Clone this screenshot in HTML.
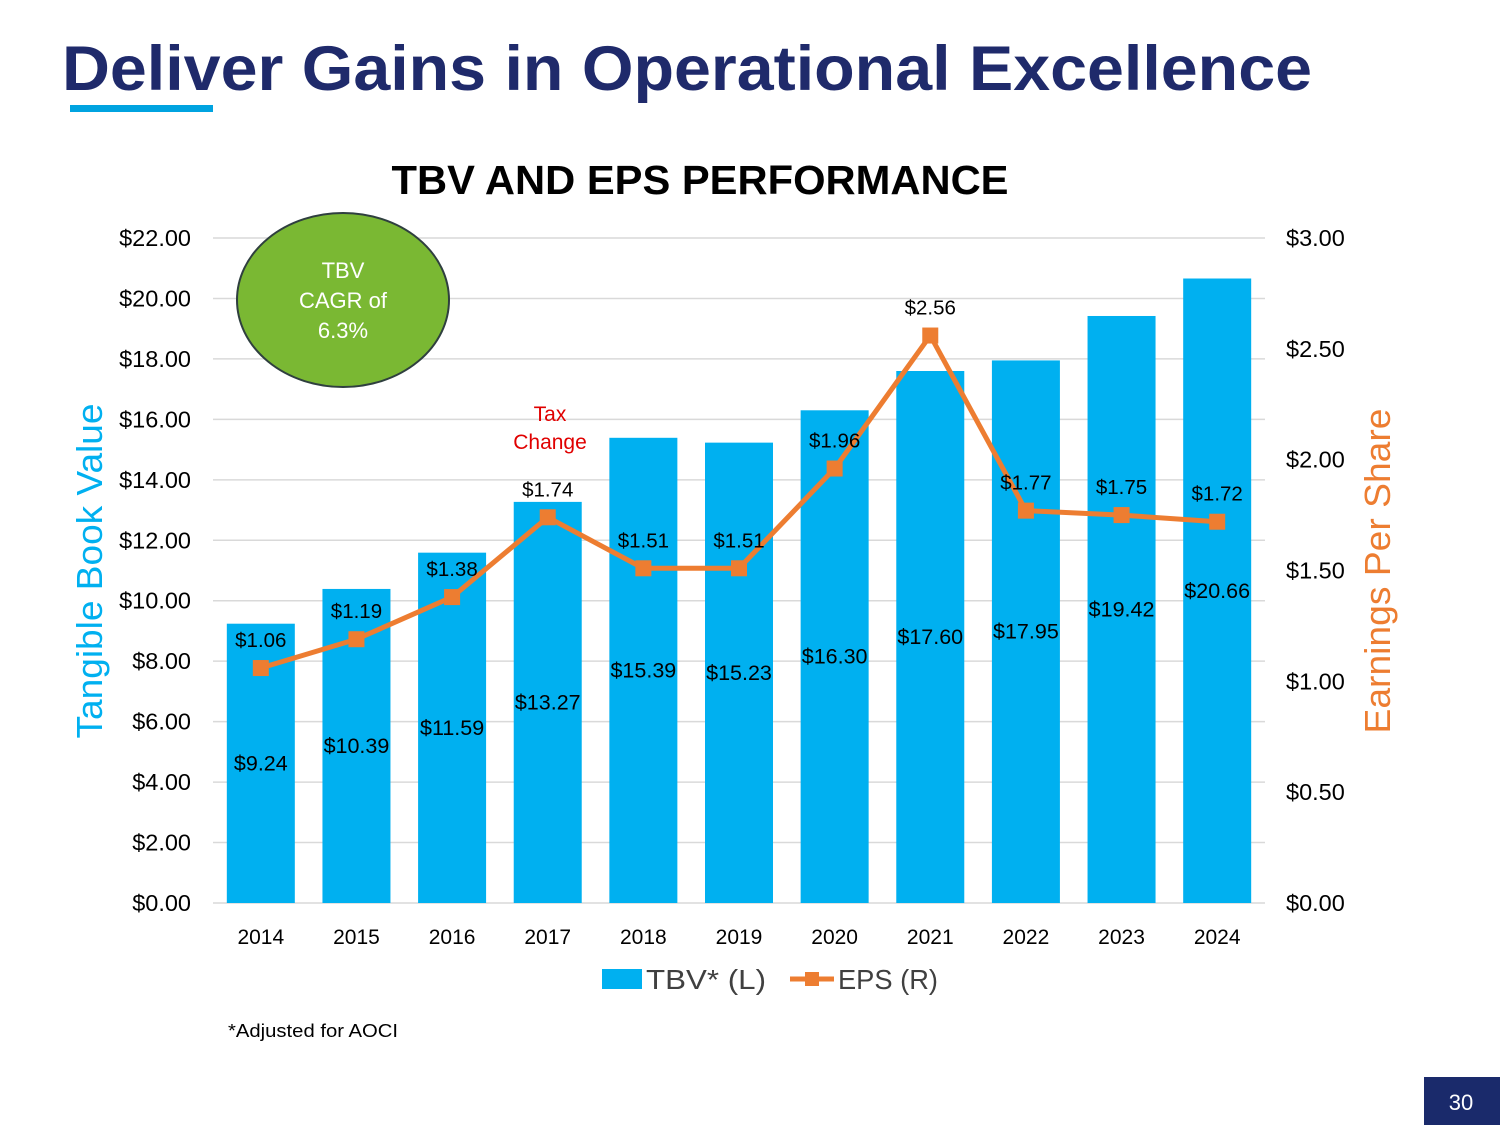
<!DOCTYPE html>
<html><head><meta charset="utf-8"><style>
body{margin:0;background:#fff;}
svg text{font-family:"Liberation Sans",Arial,sans-serif;}
</style></head><body>
<svg id="c" width="1500" height="1125" viewBox="0 0 1500 1125" xmlns="http://www.w3.org/2000/svg">
<text x="62" y="90" font-size="63" font-weight="bold" fill="#1f2a6b" textLength="1250" lengthAdjust="spacingAndGlyphs">Deliver Gains in Operational Excellence</text>
<rect x="70" y="105" width="143" height="7" fill="#00a3e0"/>
<text x="700" y="194" font-size="41" font-weight="bold" fill="#000" text-anchor="middle" textLength="617" lengthAdjust="spacingAndGlyphs">TBV AND EPS PERFORMANCE</text>
<g id="grid"></g>
<g id="bars"></g>
<g id="line"></g>
<g id="axes"></g>
<text transform="translate(102,571) rotate(-90)" font-size="36" fill="#00b0f0" text-anchor="middle" textLength="335" lengthAdjust="spacingAndGlyphs">Tangible Book Value</text>
<text transform="translate(1390,571) rotate(-90)" font-size="36" fill="#ed7d31" text-anchor="middle" textLength="325" lengthAdjust="spacingAndGlyphs">Earnings Per Share</text>
<g>
<ellipse cx="343" cy="300" rx="106" ry="87" fill="#7ab833" stroke="#2f3f3f" stroke-width="2"/>
<text x="343" y="278" font-size="22" fill="#fff" text-anchor="middle">TBV</text>
<text x="343" y="308" font-size="22" fill="#fff" text-anchor="middle">CAGR of</text>
<text x="343" y="338" font-size="22" fill="#fff" text-anchor="middle">6.3%</text>
</g>
<text x="550" y="421" font-size="21" fill="#e00000" text-anchor="middle">Tax</text>
<text x="550" y="449" font-size="21" fill="#e00000" text-anchor="middle">Change</text>
<g>
<rect x="602" y="969" width="40" height="20" fill="#00b0f0"/>
<text x="646" y="989" font-size="28" fill="#404040" font-family="DejaVu Sans" textLength="120" lengthAdjust="spacingAndGlyphs">TBV*  (L)</text>
<line x1="790" y1="979" x2="834" y2="979" stroke="#ed7d31" stroke-width="5"/>
<rect x="805" y="972" width="14" height="14" fill="#ed7d31"/>
<text x="838" y="989" font-size="28" fill="#404040" font-family="DejaVu Sans" textLength="100" lengthAdjust="spacingAndGlyphs">EPS  (R)</text>
</g>
<text x="228" y="1037" font-size="18" fill="#000" textLength="170" lengthAdjust="spacingAndGlyphs">*Adjusted for AOCI</text>
<rect x="1424" y="1077" width="76" height="48" fill="#1a2a6b"/>
<text x="1461" y="1110" font-size="22" fill="#fff" text-anchor="middle">30</text>
</svg>
<script>
const years=["2014","2015","2016","2017","2018","2019","2020","2021","2022","2023","2024"];
const tbv=[9.24,10.39,11.59,13.27,15.39,15.23,16.30,17.60,17.95,19.42,20.66];
const eps=[1.06,1.19,1.38,1.74,1.51,1.51,1.96,2.56,1.77,1.75,1.72];
const leftTicks=[0,2,4,6,8,10,12,14,16,18,20,22];
const rightTicks=[0,0.5,1,1.5,2,2.5,3];
const NS="http://www.w3.org/2000/svg";
const L=213,R=1265,T=238,B=903;
const yL=v=>B-(v/22)*(B-T);
const yR=v=>B-(v/3)*(B-T);
const band=(R-L)/years.length;
const xC=i=>L+band*(i+0.5);
function mk(tag,attrs,parent,txt){const e=document.createElementNS(NS,tag);for(const k in attrs)e.setAttribute(k,attrs[k]);if(txt!==undefined)e.textContent=txt;parent.appendChild(e);return e;}
const grid=document.getElementById('grid'),bars=document.getElementById('bars'),line=document.getElementById('line'),axes=document.getElementById('axes');
leftTicks.forEach(t=>{
  const g=mk('line',{x1:L,x2:R,y1:yL(t),y2:yL(t),stroke:'#d9d9d9','stroke-width':1.5},grid);
  
  
  const tx=mk('text',{x:191,y:yL(t)+8,'font-size':23.5,'text-anchor':'end',fill:'#000'},axes,'$'+t.toFixed(2));
  
  
});
rightTicks.forEach(t=>{
  const tx=mk('text',{x:1286,y:yR(t)+8,'font-size':23.5,fill:'#000'},axes,'$'+t.toFixed(2));
  
  
});
const bw=68;
tbv.forEach((v,i)=>{
  const r=mk('rect',{x:xC(i)-bw/2,y:yL(v),width:bw,height:B-yL(v),fill:'#00b0f0'},bars);
  
  
  const t=mk('text',{x:xC(i),y:(B+yL(v))/2+7,'font-size':21.5,'text-anchor':'middle',fill:'#000'},bars,'$'+v.toFixed(2));
  
  
  const yt=mk('text',{x:xC(i),y:944,'font-size':21,'text-anchor':'middle',fill:'#000'},axes,years[i]);
  
  
});
const pts=eps.map((v,i)=>xC(i)+','+yR(v)).join(' ');
const pl=mk('polyline',{points:pts,fill:'none',stroke:'#ed7d31','stroke-width':5,'stroke-linejoin':'round'},line);


eps.forEach((v,i)=>{
  const m=mk('rect',{x:xC(i)-8,y:yR(v)-8,width:16,height:16,fill:'#ed7d31'},line);
  
  
  const t=mk('text',{x:xC(i),y:yR(v)-21,'font-size':20.5,'text-anchor':'middle',fill:'#000'},line,'$'+v.toFixed(2));
  
  
});
</script>
</body></html>
